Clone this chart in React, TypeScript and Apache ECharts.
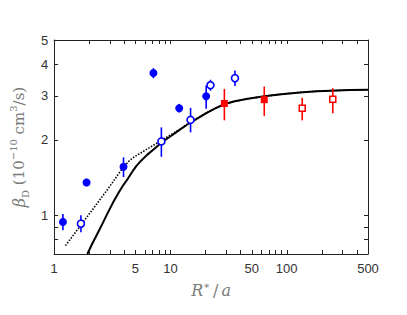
import React, { useEffect, useRef } from "react";
import * as echarts from "echarts";

// Axis ranges, tick values and labels
const X_MIN = 1;
const X_MAX = 500;
const Y_MIN = 0.7;
const Y_MAX = 5;
const X_TICKS = [1, 2, 3, 4, 5, 6, 7, 8, 9, 10, 20, 30, 40, 50, 60, 70, 80, 90, 100, 200, 300, 400, 500];
const X_LABELS = [1, 5, 10, 50, 100, 500];
const Y_TICKS = [0.8, 0.9, 1, 2, 3, 4, 5];
const Y_LABELS = [1, 2, 3, 4, 5];

// Data points: [x, y, lower, upper]
const blueFilled = [
  [1.19, 0.94, 0.87, 1.01],
  [1.9, 1.35, 1.31, 1.4],
  [3.95, 1.56, 1.42, 1.70],
  [7.14, 3.69, 3.52, 3.86],
  [11.9, 2.67, 2.57, 2.78],
  [20.3, 2.98, 2.66, 3.29],
];
const blueOpen = [
  [1.70, 0.925, 0.855, 1.0],
  [8.36, 1.97, 1.71, 2.24],
  [14.9, 2.40, 2.14, 2.68],
  [22.1, 3.30, 3.14, 3.47],
  [35.9, 3.52, 3.28, 3.78],
];
const redFilled = [
  [29.1, 2.79, 2.39, 3.19],
  [64.1, 2.89, 2.49, 3.26],
];
const redOpen = [
  [136, 2.67, 2.39, 2.94],
  [249, 2.90, 2.55, 3.21],
];

// Theory curves
const solidCurve = [
  [1.93, 0.7], [2.1, 0.76], [2.39, 0.855], [2.65, 0.94], [2.91, 1.028], [3.2, 1.12],
  [3.54, 1.217], [3.9, 1.31], [4.31, 1.4], [4.7, 1.49], [5.08, 1.57], [5.6, 1.65],
  [6.3, 1.74], [7.28, 1.84], [8.4, 1.95], [10.1, 2.07], [12, 2.19], [14, 2.3],
  [17, 2.43], [20, 2.54], [24, 2.66], [29, 2.77], [35, 2.84], [45, 2.91], [64, 2.98],
  [90, 3.04], [130, 3.09], [180, 3.12], [240, 3.14], [350, 3.16], [500, 3.165],
];
const dottedCurve = [
  [1.25, 0.756], [1.5, 0.845], [1.75, 0.93], [2, 1.01], [2.5, 1.16], [3, 1.3],
  [3.5, 1.44], [4, 1.57], [4.5, 1.66], [5, 1.72], [6, 1.81], [7, 1.89], [8.4, 1.99],
  [10, 2.09], [12, 2.2], [15, 2.36], [20, 2.55], [29, 2.77], [35, 2.84], [45, 2.91],
  [64, 2.98], [90, 3.04], [130, 3.09], [180, 3.12], [240, 3.14], [350, 3.16], [500, 3.165],
];

const BLUE = "#0000ff";
const RED = "#ff0000";
const AXIS_COLOR = "#222";
const TICK_COLOR = "#222";
const TICK_LEN = 4;

function errorBars(data: number[][], color: string, name: string) {
  return {
    type: "custom",
    name,
    data,
    z: 3,
    encode: { x: 0, y: [2, 3] },
    renderItem: (params: any, api: any) => {
      const x = api.value(0);
      const p1 = api.coord([x, api.value(2)]);
      const p2 = api.coord([x, api.value(3)]);
      return {
        type: "line",
        shape: { x1: p1[0], y1: p1[1], x2: p2[0], y2: p2[1] },
        style: { stroke: color, lineWidth: 1.6 },
      };
    },
  };
}

export default function App() {
  const ref = useRef<HTMLDivElement>(null);
  useEffect(() => {
    if (!ref.current) return;
    const chart = echarts.init(ref.current, null, { renderer: "svg" });
    const axisLine = { show: true, lineStyle: { color: AXIS_COLOR, width: 1 } };
    const tickLabelStyle = { color: "#333", fontFamily: "Liberation Sans, Arial, sans-serif", fontSize: 13 };
    const xBase = {
      type: "log",
      logBase: 10,
      min: X_MIN,
      max: X_MAX,
      axisLine,
      splitLine: { show: false },
      minorTick: { show: false },
      axisTick: { show: false },
    };
    const yBase = {
      type: "log",
      logBase: 10,
      min: Y_MIN,
      max: Y_MAX,
      axisLine,
      splitLine: { show: false },
      minorTick: { show: false },
      axisTick: { show: false },
    };
    const nameGray = "#7a7a7a";
    chart.setOption({
      animation: false,
      backgroundColor: "#ffffff",
      grid: { left: 52, right: 39, top: 40, bottom: 61 },
      xAxis: [
        {
          ...xBase,
          position: "bottom",
          axisLabel: {
            ...tickLabelStyle,
            margin: 8,
            customValues: X_LABELS,
            formatter: (v: number) => String(Math.round(v)),
          },
          name: "{i|R}{sup|∗}{t|/}{i|a}",
          nameLocation: "middle",
          nameGap: 26,
          nameTextStyle: {
            color: nameGray,
            fontFamily: "DejaVu Serif",
            fontSize: 16,
            rich: {
              i: { fontStyle: "italic", fontFamily: "DejaVu Serif", fontSize: 16, color: nameGray, lineHeight: 20 },
              t: { fontFamily: "DejaVu Serif", fontSize: 16, color: nameGray, lineHeight: 20, padding: [0, 3, 0, 3] },
              sup: { fontFamily: "DejaVu Serif", fontSize: 10, color: nameGray, lineHeight: 10, verticalAlign: "top" },
            },
          },
        },
        {
          ...xBase,
          position: "top",
          axisLabel: { show: false },
        },
      ],
      yAxis: [
        {
          ...yBase,
          position: "left",
          axisLabel: {
            ...tickLabelStyle,
            margin: 6,
            customValues: Y_LABELS,
            formatter: (v: number) => String(Math.round(v)),
          },
          name: "{i|β}{sub|D}{t| (10}{sup|−10}{t| cm}{sup|3}{t|/s)}",
          nameLocation: "middle",
          nameGap: 18,
          nameRotate: 90,
          nameTextStyle: {
            color: nameGray,
            fontFamily: "DejaVu Serif",
            fontSize: 15,
            rich: {
              i: { fontStyle: "italic", fontFamily: "DejaVu Serif", fontSize: 16, color: nameGray, lineHeight: 22 },
              t: { fontFamily: "DejaVu Serif", fontSize: 15, color: nameGray, lineHeight: 22 },
              sub: { fontFamily: "DejaVu Serif", fontSize: 10, color: nameGray, lineHeight: 10, verticalAlign: "bottom" },
              sup: { fontFamily: "DejaVu Serif", fontSize: 10, color: nameGray, lineHeight: 10, verticalAlign: "top" },
            },
          },
        },
        {
          ...yBase,
          position: "right",
          axisLabel: { show: false },
        },
      ],
      series: [
        {
          type: "line",
          name: "dotted",
          data: dottedCurve,
          smooth: false,
          showSymbol: false,
          symbol: "none",
          z: 2,
          lineStyle: { color: "#000", width: 1.6, type: [1.5, 1.5] },
        },
        {
          type: "line",
          name: "solid",
          data: solidCurve,
          smooth: false,
          showSymbol: false,
          symbol: "none",
          z: 2,
          lineStyle: { color: "#000", width: 2 },
        },
        errorBars(blueFilled, BLUE, "bfe"),
        errorBars(blueOpen, BLUE, "boe"),
        errorBars(redFilled, RED, "rfe"),
        errorBars(redOpen, RED, "roe"),
        {
          type: "scatter",
          name: "blueFilled",
          data: blueFilled.map((d) => [d[0], d[1]]),
          symbol: "circle",
          symbolSize: 8,
          z: 4,
          itemStyle: { color: BLUE, opacity: 1 },
        },
        {
          type: "scatter",
          name: "blueOpen",
          data: blueOpen.map((d) => [d[0], d[1]]),
          symbol: "circle",
          symbolSize: 7,
          z: 4,
          itemStyle: { color: "#fff", borderColor: BLUE, borderWidth: 1.6, opacity: 1 },
        },
        {
          type: "scatter",
          name: "redFilled",
          data: redFilled.map((d) => [d[0], d[1]]),
          symbol: "rect",
          symbolSize: 7,
          z: 4,
          itemStyle: { color: RED, opacity: 1 },
        },
        {
          type: "scatter",
          name: "redOpen",
          data: redOpen.map((d) => [d[0], d[1]]),
          symbol: "rect",
          symbolSize: 6,
          z: 4,
          itemStyle: { color: "#fff", borderColor: RED, borderWidth: 1.5, opacity: 1 },
        },
      ],
    });

    // Axis ticks: placed through the chart's own scales (convertToPixel)
    const elems: any[] = [];
    const px = (x: number, y: number) => chart.convertToPixel({ gridIndex: 0 }, [x, y]) as number[];
    X_TICKS.forEach((v) => {
      const b = px(v, Y_MIN);
      const t = px(v, Y_MAX);
      const x = Math.round(b[0]) + 0.5;
      elems.push({ type: "line", z: 100, shape: { x1: x, y1: b[1], x2: x, y2: b[1] - TICK_LEN }, style: { stroke: TICK_COLOR, lineWidth: 1 } });
      elems.push({ type: "line", z: 100, shape: { x1: x, y1: t[1], x2: x, y2: t[1] + TICK_LEN }, style: { stroke: TICK_COLOR, lineWidth: 1 } });
    });
    Y_TICKS.forEach((v) => {
      const l = px(X_MIN, v);
      const r = px(X_MAX, v);
      const y = Math.round(l[1]) + 0.5;
      elems.push({ type: "line", z: 100, shape: { x1: l[0], y1: y, x2: l[0] + TICK_LEN, y2: y }, style: { stroke: TICK_COLOR, lineWidth: 1 } });
      elems.push({ type: "line", z: 100, shape: { x1: r[0], y1: y, x2: r[0] - TICK_LEN, y2: y }, style: { stroke: TICK_COLOR, lineWidth: 1 } });
    });
    chart.setOption({ graphic: { elements: elems } });

    return () => chart.dispose();
  }, []);
  return (
    <div
      ref={ref}
      style={{ position: "absolute", left: 0, top: 0, width: 407, height: 315 }}
    />
  );
}
